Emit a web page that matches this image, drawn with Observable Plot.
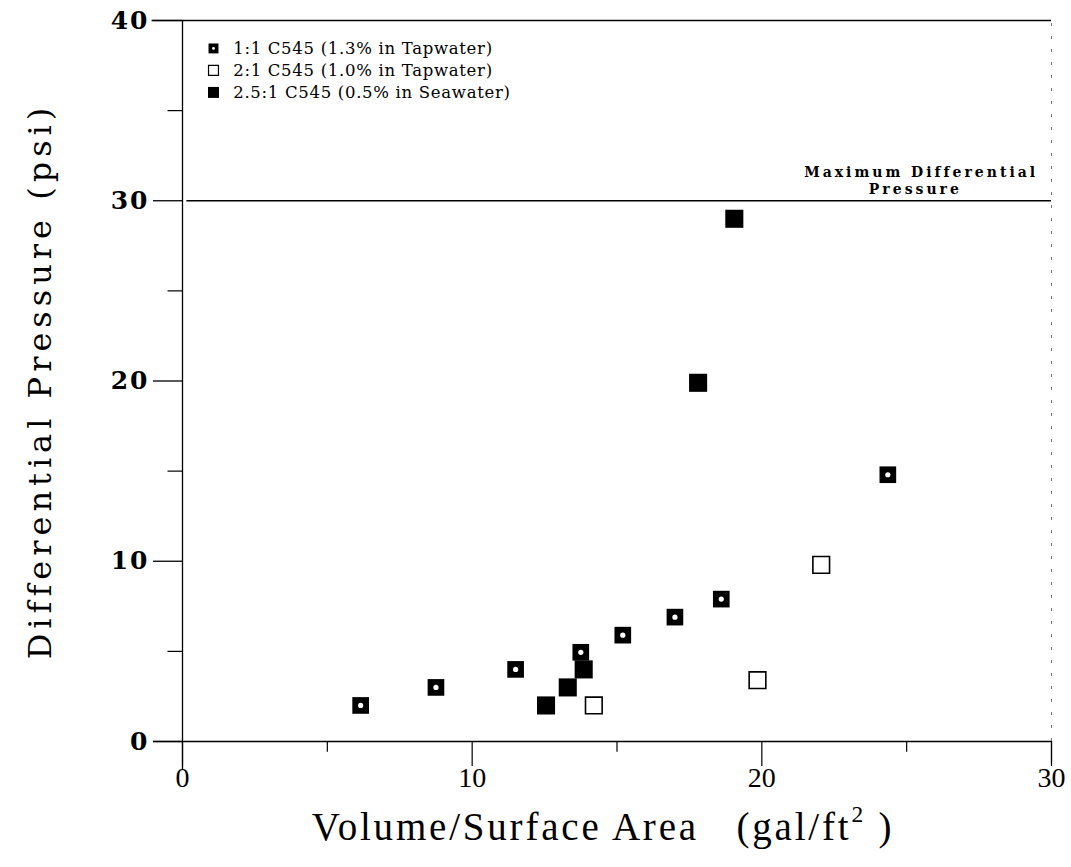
<!DOCTYPE html>
<html><head><meta charset="utf-8">
<script src="https://cdn.jsdelivr.net/npm/d3@7"></script>
<script src="https://cdn.jsdelivr.net/npm/@observablehq/plot@0.6"></script>
<style>body{margin:0;background:#fff}</style>
</head><body><div id="chart"></div>
<script>
// ---- data ----
const seriesNames = ["1:1 C545 (1.3% in Tapwater)", "2:1 C545 (1.0% in Tapwater)", "2.5:1 C545 (0.5% in Seawater)"];
const s1x = [6.15, 8.75, 11.5, 13.75, 15.2, 17.0, 18.6, 24.35];
const s1y = [2.0, 3.0, 4.0, 4.95, 5.9, 6.9, 7.9, 14.8];
const s2x = [14.2, 19.85, 22.05];
const s2y = [2.0, 3.4, 9.8];
const s3x = [12.55, 13.3, 13.85, 17.8, 19.05];
const s3y = [2.0, 3.0, 4.0, 19.9, 29.0];
const xTicks = [0, 10, 20, 30];
const xMinor = [5, 15, 25];
const yTicks = [0, 10, 20, 30, 40];
const yMinor = [5, 15, 25, 35];
const maxPressure = 30;
const maxLabel = ["Maximum Differential", "Pressure"];
const yTitle = "Differential Pressure (psi)";

const pts = (xs, ys) => xs.map((x, i) => ({x, y: ys[i]}));
const data1 = pts(s1x, s1y), data2 = pts(s2x, s2y), data3 = pts(s3x, s3y);
const legend = seriesNames.map((name, i) => ({name, i, y: 38.45 - i * 1.22}));

const serif = "'DejaVu Serif', serif";
const chart = Plot.plot({
  width: 1071, height: 867,
  marginLeft: 182, marginRight: 20, marginTop: 20, marginBottom: 126,
  x: {domain: [0, 30]},
  y: {domain: [0, 40]},
  style: {background: "#fff", color: "#000"},
  marks: [
    // frame lines
    Plot.ruleY([40], {x1: -1.05, x2: 30, strokeWidth: 1.6}),
    Plot.ruleY([0], {x1: -1.0, x2: 30, strokeWidth: 1.4}),
    Plot.ruleX([0], {y1: -1.6, y2: 40, strokeWidth: 1.3}),
    Plot.ruleX([30], {y1: 0, y2: 40, stroke: "#777", strokeWidth: 1, strokeDasharray: "3,10"}),
    Plot.ruleX([30], {y1: -1.2, y2: 0, strokeWidth: 1.2}),
    Plot.ruleY([maxPressure], {x1: 0.15, x2: 30, strokeWidth: 1.4}),
    // minor ticks
    Plot.ruleY(yMinor, {x1: -0.5, x2: 0, strokeWidth: 1.2}),
    Plot.ruleX(xMinor, {y1: -0.6, y2: 0, strokeWidth: 1.2}),
    // axes
    Plot.axisY(yTicks, {tickSize: 29, tickPadding: 4, fontSize: 25, fontFamily: serif, fontWeight: "bold", label: null, strokeWidth: 1.3}),
    Plot.axisX(xTicks, {tickSize: 25, tickPadding: 1, fontSize: 28, fontFamily: "'Liberation Serif', serif", label: null, strokeWidth: 1.2}),
    // data
    Plot.dot(data3, {x: "x", y: "y", symbol: "square", r: 10.2, fill: "black"}),
    Plot.dot(data2, {x: "x", y: "y", symbol: "square", r: 9.4, fill: "white", stroke: "black", strokeWidth: 1.6}),
    Plot.dot(data1, {x: "x", y: "y", symbol: "square", r: 9.4, fill: "black"}),
    Plot.dot(data1, {x: "x", y: "y", r: 2.6, fill: "white"}),
    // legend
    Plot.dot(legend.filter(d => d.i === 0), {x: 1.07, y: "y", symbol: "square", r: 5.6, fill: "black"}),
    Plot.dot(legend.filter(d => d.i === 0), {x: 1.07, y: "y", r: 1.4, fill: "white"}),
    Plot.dot(legend.filter(d => d.i === 1), {x: 1.07, y: "y", symbol: "square", r: 5.6, fill: "white", stroke: "black", strokeWidth: 1.2}),
    Plot.dot(legend.filter(d => d.i === 2), {x: 1.07, y: "y", symbol: "square", r: 6.2, fill: "black"}),
    Plot.text(legend, {x: 1.75, y: "y", text: "name", textAnchor: "start", fontSize: 16.5, fontFamily: serif}),
    // max pressure annotation
    Plot.text([maxLabel[0]], {x: 25.5, y: 31.55, text: d => d, fontSize: 14, fontWeight: "bold", fontFamily: serif}),
    Plot.text([maxLabel[1]], {x: 25.3, y: 30.65, text: d => d, fontSize: 14, fontWeight: "bold", fontFamily: serif}),
    // axis titles
    Plot.text([yTitle], {frameAnchor: "left", textAnchor: "middle", dx: -142, rotate: -90, text: d => d, fontSize: 32, fontFamily: serif}),
    Plot.text(["XTITLE"], {frameAnchor: "bottom", textAnchor: "middle", dx: -14, dy: 98, text: d => d, fontSize: 39, fontFamily: "'Liberation Serif', serif"})
  ]
});
document.getElementById("chart").appendChild(chart);

// styling tweaks: letter spacing & superscript
d3.select(chart).selectAll("text").each(function() {
  const t = this.textContent;
  if (t === "XTITLE") {
    const s = d3.select(this).text("").style("white-space", "pre").attr("letter-spacing", 2.8);
    s.append("tspan").text("Volume/Surface Area   (gal/ft");
    s.append("tspan").attr("dy", "-0.75em").attr("font-size", "0.6em").text("2");
    s.append("tspan").attr("dy", "0.45em").text(" )");
  } else if (t === yTitle) {
    d3.select(this).attr("letter-spacing", 5);
  } else if (seriesNames.includes(t)) {
    d3.select(this).attr("letter-spacing", 0.7);
  } else if (maxLabel.includes(t)) {
    d3.select(this).attr("letter-spacing", 3);
  }
});
d3.select(chart).selectAll("[aria-label='y-axis tick label'] text").attr("letter-spacing", 2);
</script>
</body></html>
